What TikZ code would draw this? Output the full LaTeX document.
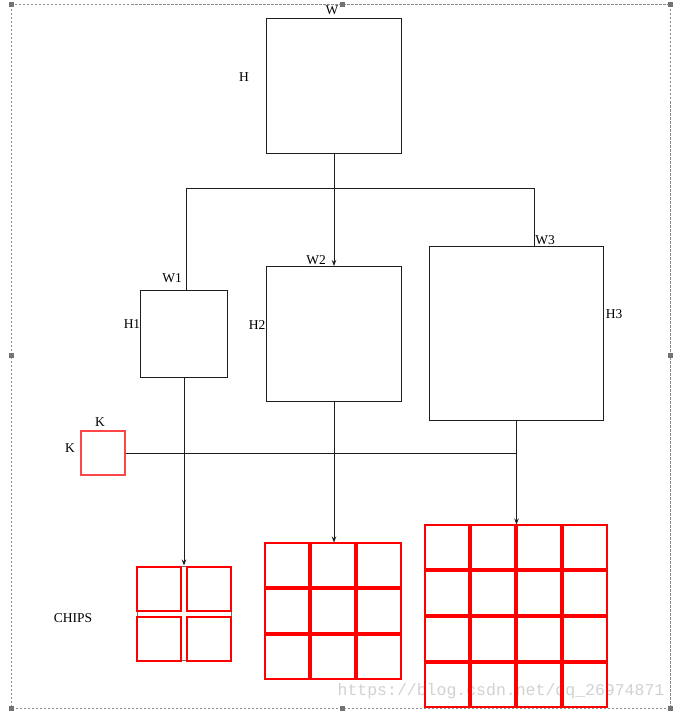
\documentclass[tikz,border=0pt]{standalone}
\usepackage{fontspec}
\setmainfont{Liberation Serif}
\newfontfamily\wmfont{Liberation Mono}
\usetikzlibrary{arrows.meta}
\definecolor{cellred}{RGB}{255,0,0}
\definecolor{kred}{RGB}{255,70,70}
\definecolor{boxline}{RGB}{30,30,30}
\definecolor{frameg}{RGB}{110,110,110}
\begin{document}
\begin{tikzpicture}[x=1pt,y=-1pt,
  bbox/.style={draw=boxline,line width=1pt,rectangle,inner sep=0pt},
  kbox/.style={draw=kred,line width=1.6pt,rectangle,inner sep=0pt},
  cell/.style={draw=cellred,line width=1.5pt,rectangle,inner sep=0pt,minimum width=44pt,minimum height=44pt},
  gridframe/.style={draw=frameg,line width=1pt,rectangle,inner sep=0pt},
  lbl/.style={inner sep=0pt,font=\fontsize{13.5}{15}\selectfont},
  conn/.style={draw=boxline,line width=1pt},
  arr/.style={conn,-{Stealth[length=6pt,width=4.5pt]}},
  handle/.style={fill=black!55,draw=none,rectangle,minimum size=5pt,inner sep=0pt}]
\useasboundingbox (0,0) rectangle (678,712);
% selection frame
\draw[black!45,line width=0.7pt,dash pattern=on 2.5pt off 1.5pt] (11.5,4.5) rectangle (670.5,708.5);
\foreach \hx/\hy [count=\i] in {11.5/4.5,342.5/4.5,670.5/4.5,11.5/355.5,670.5/355.5,11.5/708.5,342.5/708.5,670.5/708.5}
  \node[handle] (h\i) at (\hx,\hy) {};
% watermark
\node[text=black!18,font=\wmfont\fontsize{16.5}{18}\selectfont,inner sep=0pt] (wm) at (501,691) {https://blog.csdn.net/qq\_26974871};
% boxes
\node[bbox,minimum width=135pt,minimum height=135pt] (top) at (334,86) {};
\node[bbox,minimum width=87pt,minimum height=87pt] (b1) at (184,334) {};
\node[bbox,minimum width=135pt,minimum height=135pt] (b2) at (334,334) {};
\node[bbox,minimum width=174pt,minimum height=174pt] (b3) at (516.5,333.5) {};
\node[kbox,minimum width=44pt,minimum height=44pt] (k) at (103,453) {};
% labels
\node[lbl] (lW) at (332,10) {W};
\node[lbl] (lH) at (244,77) {H};
\node[lbl] (lW1) at (172,278) {W1};
\node[lbl] (lH1) at (132,324) {H1};
\node[lbl] (lW2) at (316,260) {W2};
\node[lbl] (lH2) at (257,325) {H2};
\node[lbl] (lW3) at (545,240) {W3};
\node[lbl] (lH3) at (614,314) {H3};
\node[lbl] (lK1) at (100,422) {K};
\node[lbl] (lK2) at (70,448) {K};
\node[lbl] (lC) at (73,618) {CHIPS};
% grids
\node[gridframe,minimum width=94pt,minimum height=94pt] (g1) at (184,613) {};
\node[gridframe,minimum width=136pt,minimum height=136pt] (g2) at (333,611) {};
\node[gridframe,minimum width=182pt,minimum height=182pt] (g3) at (516,616) {};
\foreach \x [count=\i] in {137,187}{\foreach \y [count=\j] in {567,617}{
  \node[cell] (g1-\i-\j) at (\x+22,\y+22) {};}}
\foreach \x [count=\i] in {265,311,357}{\foreach \y [count=\j] in {543,589,635}{
  \node[cell] (g2-\i-\j) at (\x+22,\y+22) {};}}
\foreach \x [count=\i] in {425,471,517,563}{\foreach \y [count=\j] in {525,571,617,663}{
  \node[cell] (g3-\i-\j) at (\x+22,\y+22) {};}}
% tree connectors
\coordinate (j) at (334,188.5);
\coordinate (jl) at (186.5,188.5);
\coordinate (jr) at (534.5,188.5);
\draw[conn] (top.south) -- (j);
\draw[conn] (b1.north -| jl) -- (jl) -- (jr) -- (jr |- b3.north);
\draw[arr] (j) -- (b2.north);
% down connectors
\draw[arr] (b1.south) -- (b1.south |- g1.north);
\draw[arr] (b2.south) -- (b2.south |- g2.north);
\draw[arr] (b3.south) -- (b3.south |- g3.north);
\draw[conn] (k.east) -- (k.east -| b3.south);
\end{tikzpicture}
\end{document}
